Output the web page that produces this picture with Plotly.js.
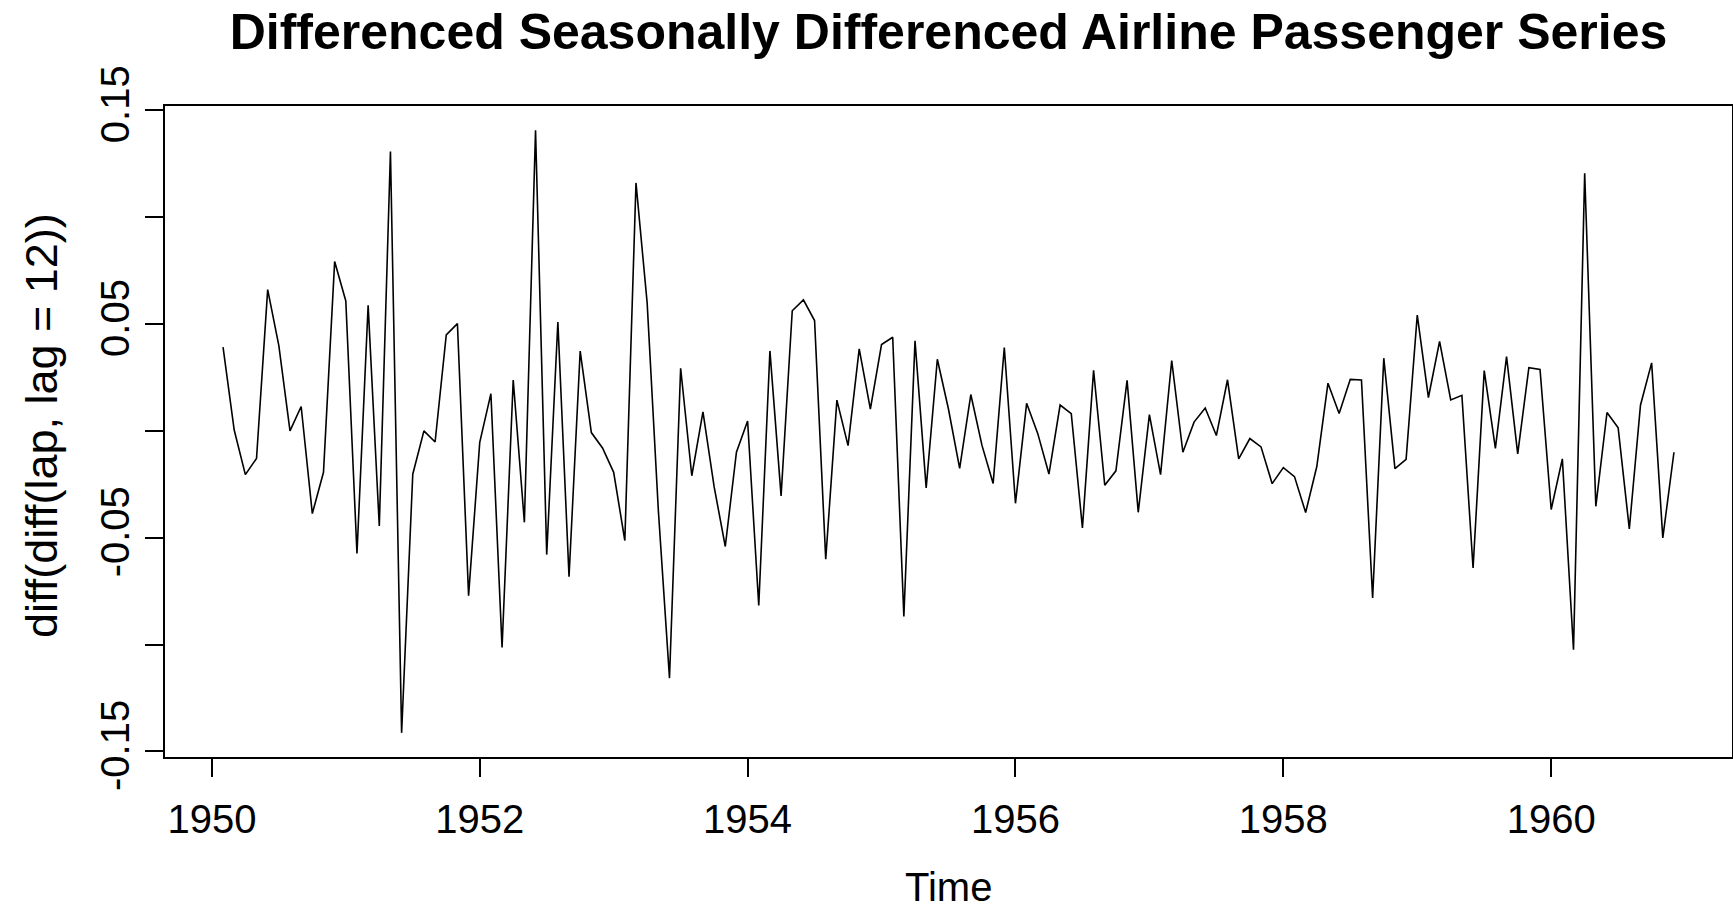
<!DOCTYPE html>
<html>
<head>
<meta charset="utf-8">
<script src="https://cdn.plot.ly/plotly-3.0.1.min.js"></script>
<style>html,body{margin:0;padding:0;background:#fff;}#chart{width:1733px;height:910px;}</style>
</head>
<body>
<div id="chart"></div>
<script>
// diff(diff(lap, lag = 12)) — monthly, starting February 1950
var startYear = 1950;
var startMonth = 2;
var values = [
  0.0392, 0.0004, -0.0205, -0.0129, 0.0661, 0.0399, 0.0000, 0.0114, -0.0387, -0.0194, 0.0792,
  0.0608, -0.0574, 0.0587, -0.0445, 0.1307, -0.1413, -0.0203, 0.0000, -0.0052, 0.0449, 0.0502, -0.0771,
  -0.0054, 0.0174, -0.1014, 0.0238, -0.0428, 0.1407, -0.0579, 0.0509, -0.0682, 0.0373, -0.0008, -0.0080,
  -0.0194, -0.0513, 0.1160, 0.0599, -0.0369, -0.1157, 0.0293, -0.0210, 0.0089, -0.0261, -0.0541, -0.0100,
  0.0046, -0.0817, 0.0374, -0.0304, 0.0562, 0.0613, 0.0516, -0.0601, 0.0144, -0.0069, 0.0384, 0.0102,
  0.0404, 0.0438, -0.0869, 0.0421, -0.0267, 0.0335, 0.0101, -0.0176, 0.0170, -0.0068, -0.0246, 0.0390,
  -0.0339, 0.0129, -0.0013, -0.0202, 0.0121, 0.0081, -0.0454, 0.0283, -0.0254, -0.0187, 0.0236, -0.0381,
  0.0076, -0.0205, 0.0329, -0.0100, 0.0041, 0.0107, -0.0022, 0.0239, -0.0131, -0.0036, -0.0075, -0.0247,
  -0.0172, -0.0214, -0.0382, -0.0167, 0.0223, 0.0081, 0.0241, 0.0238, -0.0782, 0.0340, -0.0177, -0.0133,
  0.0542, 0.0156, 0.0419, 0.0145, 0.0166, -0.0642, 0.0282, -0.0082, 0.0347, -0.0108, 0.0296, 0.0287,
  -0.0368, -0.0131, -0.1024, 0.1205, -0.0353, 0.0086, 0.0014, -0.0459, 0.0120, 0.0318, -0.0501, -0.0100
];
var xTickVals = [1950, 1952, 1954, 1956, 1958, 1960];
var xTickText = ["1950", "1952", "1954", "1956", "1958", "1960"];
var yTickVals = [-0.15, -0.10, -0.05, 0, 0.05, 0.10, 0.15];
var yTickText = ["-0.15", "", "-0.05", "", "0.05", "", "0.15"];
var titleText = "Differenced Seasonally Differenced Airline Passenger Series";
var xLabel = "Time";
var yLabel = "diff(diff(lap, lag = 12))";

var times = values.map(function (v, i) { return startYear + (startMonth - 1 + i) / 12; });

var font = "Liberation Sans, Arial, Helvetica, sans-serif";

var trace = {
  x: times, y: values, type: "scatter", mode: "lines",
  line: { color: "#000", width: 1.6 }, hoverinfo: "skip"
};

var layout = {
  width: 1733, height: 910,
  margin: { l: 165, r: 1, t: 106, b: 153, pad: 0 },
  paper_bgcolor: "#fff", plot_bgcolor: "#fff",
  showlegend: false,
  font: { family: font, color: "#000", size: 40 },
  title: {
    text: "<b>" + titleText + "</b>",
    font: { family: font, size: 50, color: "#000" },
    xref: "paper", x: 0.5, xanchor: "center",
    yref: "container", y: 0.965, yanchor: "middle"
  },
  xaxis: {
    range: [1949.65, 1961.35], tickmode: "array", tickvals: xTickVals, ticktext: xTickText,
    showgrid: false, zeroline: false, showline: true, mirror: true, linecolor: "#000", linewidth: 2,
    ticks: "outside", ticklen: 18, tickwidth: 2, tickcolor: "#000", ticklabelstandoff: 8,
    tickfont: { family: font, size: 40, color: "#000" }
  },
  yaxis: {
    range: [-0.1526, 0.1520], tickmode: "array", tickvals: yTickVals, ticktext: yTickText,
    showgrid: false, zeroline: false, showline: true, mirror: true, linecolor: "#000", linewidth: 2,
    ticks: "outside", ticklen: 18, tickwidth: 2, tickcolor: "#000", tickangle: -90,
    tickfont: { family: font, size: 40, color: "#000" }
  },
  annotations: [
    { text: xLabel, xref: "paper", yref: "paper", x: 0.5, y: -0.2, xanchor: "center", yanchor: "middle",
      showarrow: false, font: { family: font, size: 40, color: "#000" } },
    { text: yLabel, xref: "paper", yref: "paper", x: -0.0785, y: 0.51, xanchor: "center", yanchor: "middle",
      textangle: -90, showarrow: false, font: { family: font, size: 45, color: "#000" } }
  ]
};

Plotly.newPlot("chart", [trace], layout, { displayModeBar: false, staticPlot: true });
</script>
</body>
</html>
